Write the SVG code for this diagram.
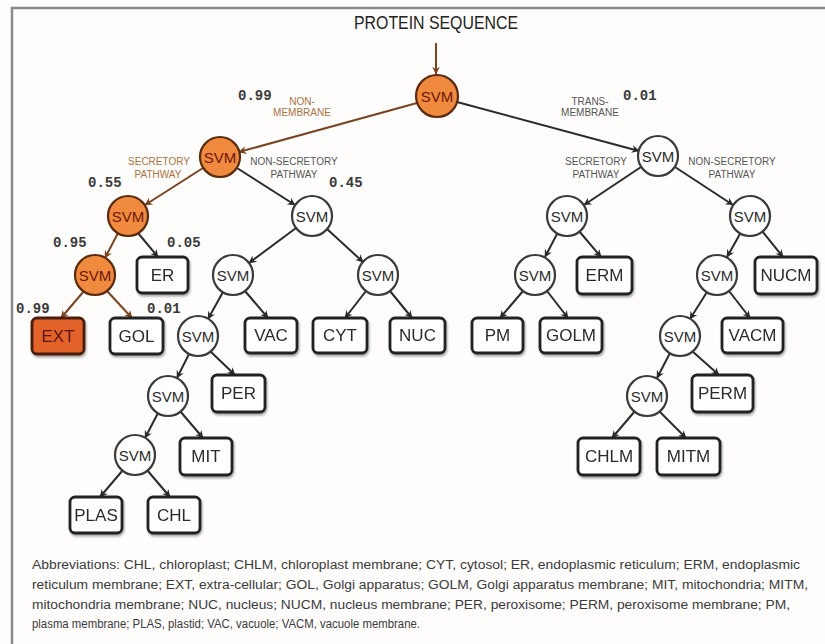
<svg xmlns="http://www.w3.org/2000/svg" width="825" height="644" viewBox="0 0 825 644">
<defs>
<style>
.frame{stroke:#8a8a8a;stroke-width:2.5;fill:none}
.c{fill:#fff;stroke:#3a3a3a;stroke-width:2.2}
.co{fill:#f08a3e;stroke:#5a2a10;stroke-width:2.2}
.b{fill:#fff;stroke:#222;stroke-width:2.8}
.bo{fill:#e2622a;stroke:#4a1e0c;stroke-width:2.8}
.st{font-family:"Liberation Sans",Arial,sans-serif;font-size:15px;fill:#2a2a2a;text-anchor:middle;dominant-baseline:central}
.sto{font-family:"Liberation Sans",Arial,sans-serif;font-size:15px;fill:#6e1608;text-anchor:middle;dominant-baseline:central}
.bt{font-family:"Liberation Sans",Arial,sans-serif;font-size:17px;fill:#2a2a2a;text-anchor:middle;dominant-baseline:central}
.bto{font-family:"Liberation Sans",Arial,sans-serif;font-size:17px;fill:#5a1408;text-anchor:middle;dominant-baseline:central}
.num{font-family:"Liberation Mono","DejaVu Sans Mono",monospace;font-size:14px;font-weight:bold;fill:#3a3a3a}
.lbl{font-family:"Liberation Sans",Arial,sans-serif;font-size:10px;fill:#555;text-anchor:middle}
.lblo{font-family:"Liberation Sans",Arial,sans-serif;font-size:10px;fill:#b0703e;text-anchor:middle}
.e{stroke:#2a2a2a;stroke-width:2;fill:none;marker-end:url(#ah)}
.eo{stroke:#7a4420;stroke-width:2;fill:none;marker-end:url(#aho)}
.abbr{font-family:"Liberation Sans",Arial,sans-serif;font-size:12.5px;fill:#3a3a3a}
</style>
<marker id="ah" viewBox="0 0 10 10" refX="9" refY="5" markerWidth="6" markerHeight="6" orient="auto" markerUnits="userSpaceOnUse" overflow="visible">
<path d="M0,0 L10,5 L0,10 L3,5 Z" fill="#2a2a2a" transform="scale(1.3) translate(-2.3,-1.2)"/>
</marker>
<marker id="aho" viewBox="0 0 10 10" refX="9" refY="5" markerWidth="6" markerHeight="6" orient="auto" markerUnits="userSpaceOnUse" overflow="visible">
<path d="M0,0 L10,5 L0,10 L3,5 Z" fill="#7a4420" transform="scale(1.3) translate(-2.3,-1.2)"/>
</marker>
<filter id="sh" x="-20%" y="-20%" width="140%" height="140%">
<feGaussianBlur in="SourceAlpha" stdDeviation="1.2"/>
<feOffset dx="1" dy="1.5" result="o"/>
<feComponentTransfer><feFuncA type="linear" slope="0.35"/></feComponentTransfer>
<feMerge><feMergeNode/><feMergeNode in="SourceGraphic"/></feMerge>
</filter>
</defs>
<rect width="825" height="644" fill="#fefdfc"/>
<path class="frame" d="M12,644 L12,8 L825,8"/>

<text x="436" y="29" font-family="Liberation Sans,Arial,sans-serif" font-size="18" fill="#222" text-anchor="middle" textLength="164" lengthAdjust="spacingAndGlyphs">PROTEIN SEQUENCE</text>

<g id="connectors">
<path class="eo" d="M436,43 L436,74"/>
<path class="eo" d="M417,103 L239,152"/>
<path class="e" d="M457,102 L639,151"/>
<path class="eo" d="M203,168 L145,205"/>
<path class="e" d="M237,168 L295,205"/>
<path class="eo" d="M118,233 L105,258"/>
<path class="e" d="M138,233 L158,257"/>
<path class="e" d="M296,228 L249,263"/>
<path class="e" d="M327,229 L363,262"/>
<path class="eo" d="M84,291 L61,318"/>
<path class="eo" d="M107,291 L132,318"/>
<path class="e" d="M223,292 L208,319"/>
<path class="e" d="M245,291 L268,318"/>
<path class="e" d="M366,291 L345,318"/>
<path class="e" d="M390,291 L412,318"/>
<path class="e" d="M189,354 L177,378"/>
<path class="e" d="M210,351 L235,375"/>
<path class="e" d="M158,413 L145,438"/>
<path class="e" d="M180,411 L203,438"/>
<path class="e" d="M123,470 L100,497"/>
<path class="e" d="M147,470 L170,497"/>
<path class="e" d="M641,167 L584,205"/>
<path class="e" d="M675,167 L733,205"/>
<path class="e" d="M557,234 L545,257"/>
<path class="e" d="M579,231 L601,257"/>
<path class="e" d="M740,234 L727,257"/>
<path class="e" d="M762,231 L783,257"/>
<path class="e" d="M523,291 L500,318"/>
<path class="e" d="M547,291 L568,318"/>
<path class="e" d="M707,292 L690,319"/>
<path class="e" d="M729,291 L750,318"/>
<path class="e" d="M670,353 L657,378"/>
<path class="e" d="M692,351 L719,375"/>
<path class="e" d="M635,411 L612,438"/>
<path class="e" d="M659,411 L686,438"/>
</g>

<g id="edge-labels">
<text class="num" x="238" y="100">0.99</text>
<text class="lblo" x="302" y="105">NON-</text>
<text class="lblo" x="302" y="116">MEMBRANE</text>
<text class="lbl" x="590" y="105">TRANS-</text>
<text class="lbl" x="590" y="116">MEMBRANE</text>
<text class="num" x="623" y="100">0.01</text>
<text class="lblo" x="159" y="165">SECRETORY</text>
<text class="lblo" x="158" y="178">PATHWAY</text>
<text class="lbl" x="294" y="165">NON-SECRETORY</text>
<text class="lbl" x="294" y="178">PATHWAY</text>
<text class="num" x="88" y="187">0.55</text>
<text class="num" x="329" y="187">0.45</text>
<text class="lbl" x="596" y="165">SECRETORY</text>
<text class="lbl" x="596" y="178">PATHWAY</text>
<text class="lbl" x="732" y="165">NON-SECRETORY</text>
<text class="lbl" x="732" y="178">PATHWAY</text>
<text class="num" x="53" y="247">0.95</text>
<text class="num" x="167" y="247">0.05</text>
<text class="num" x="16" y="313">0.99</text>
<text class="num" x="147" y="313">0.01</text>
</g>

<g id="n-root"><circle class="co" cx="437" cy="96" r="21"/><text class="sto" x="437" y="96">SVM</text></g>
<g id="n-nonmem"><circle class="co" cx="220" cy="157" r="20"/><text class="sto" x="220" y="157">SVM</text></g>
<g id="n-transmem"><circle class="c" cx="658" cy="156" r="20"/><text class="st" x="658" y="156">SVM</text></g>
<g id="n-sec"><circle class="co" cx="128" cy="216" r="20"/><text class="sto" x="128" y="216">SVM</text></g>
<g id="n-nonsec"><circle class="c" cx="312" cy="216" r="20"/><text class="st" x="312" y="216">SVM</text></g>
<g id="n-msec"><circle class="c" cx="567" cy="216" r="20"/><text class="st" x="567" y="216">SVM</text></g>
<g id="n-mnonsec"><circle class="c" cx="750" cy="216" r="20"/><text class="st" x="750" y="216">SVM</text></g>
<g id="n-sec2"><circle class="co" cx="95" cy="275" r="20"/><text class="sto" x="95" y="275">SVM</text></g>
<g id="n-ER" filter="url(#sh)"><rect class="b" x="137" y="257" width="51" height="36" rx="5"/><text class="bt" x="162.5" y="275">ER</text></g>
<g id="n-ns2a"><circle class="c" cx="233" cy="275" r="20"/><text class="st" x="233" y="275">SVM</text></g>
<g id="n-ns2b"><circle class="c" cx="378" cy="275" r="20"/><text class="st" x="378" y="275">SVM</text></g>
<g id="n-msec2"><circle class="c" cx="535" cy="275" r="20"/><text class="st" x="535" y="275">SVM</text></g>
<g id="n-ERM" filter="url(#sh)"><rect class="b" x="577" y="257" width="55" height="37" rx="5"/><text class="bt" x="604.5" y="275.5">ERM</text></g>
<g id="n-mns2"><circle class="c" cx="717" cy="275" r="20"/><text class="st" x="717" y="275">SVM</text></g>
<g id="n-NUCM" filter="url(#sh)"><rect class="b" x="755" y="257" width="62" height="37" rx="5"/><text class="bt" x="786" y="275.5">NUCM</text></g>

<g id="n-EXT" filter="url(#sh)"><rect class="bo" x="32" y="318" width="52" height="36" rx="5"/><text class="bto" x="58" y="336">EXT</text></g>
<g id="n-GOL" filter="url(#sh)"><rect class="b" x="110" y="318" width="53" height="36" rx="5"/><text class="bt" x="136.5" y="336">GOL</text></g>
<g id="n-ns3"><circle class="c" cx="198" cy="336" r="20"/><text class="st" x="198" y="336">SVM</text></g>
<g id="n-VAC" filter="url(#sh)"><rect class="b" x="245" y="318" width="52" height="35" rx="5"/><text class="bt" x="271" y="335.5">VAC</text></g>
<g id="n-CYT" filter="url(#sh)"><rect class="b" x="313" y="318" width="54" height="35" rx="5"/><text class="bt" x="340" y="335.5">CYT</text></g>
<g id="n-NUC" filter="url(#sh)"><rect class="b" x="390" y="318" width="55" height="35" rx="5"/><text class="bt" x="417.5" y="335.5">NUC</text></g>
<g id="n-PM" filter="url(#sh)"><rect class="b" x="472" y="318" width="51" height="35" rx="5"/><text class="bt" x="497.5" y="335.5">PM</text></g>
<g id="n-GOLM" filter="url(#sh)"><rect class="b" x="540" y="318" width="62" height="35" rx="5"/><text class="bt" x="571" y="335.5">GOLM</text></g>
<g id="n-mns3"><circle class="c" cx="680" cy="336" r="20"/><text class="st" x="680" y="336">SVM</text></g>
<g id="n-VACM" filter="url(#sh)"><rect class="b" x="722" y="318" width="61" height="35" rx="5"/><text class="bt" x="752.5" y="335.5">VACM</text></g>

<g id="n-ns4"><circle class="c" cx="168" cy="396" r="20"/><text class="st" x="168" y="396">SVM</text></g>
<g id="n-PER" filter="url(#sh)"><rect class="b" x="212" y="375" width="53" height="37" rx="5"/><text class="bt" x="238.5" y="393.5">PER</text></g>
<g id="n-mns4"><circle class="c" cx="647" cy="396" r="20"/><text class="st" x="647" y="396">SVM</text></g>
<g id="n-PERM" filter="url(#sh)"><rect class="b" x="692" y="375" width="61" height="37" rx="5"/><text class="bt" x="722.5" y="393.5">PERM</text></g>

<g id="n-ns5"><circle class="c" cx="135" cy="455" r="20"/><text class="st" x="135" y="455">SVM</text></g>
<g id="n-MIT" filter="url(#sh)"><rect class="b" x="180" y="438" width="52" height="37" rx="5"/><text class="bt" x="206" y="456.5">MIT</text></g>
<g id="n-CHLM" filter="url(#sh)"><rect class="b" x="578" y="438" width="62" height="37" rx="5"/><text class="bt" x="609" y="456.5">CHLM</text></g>
<g id="n-MITM" filter="url(#sh)"><rect class="b" x="657" y="438" width="63" height="37" rx="5"/><text class="bt" x="688.5" y="456.5">MITM</text></g>

<g id="n-PLAS" filter="url(#sh)"><rect class="b" x="70" y="497" width="52" height="36" rx="5"/><text class="bt" x="96" y="515">PLAS</text></g>
<g id="n-CHL" filter="url(#sh)"><rect class="b" x="148" y="497" width="52" height="36" rx="5"/><text class="bt" x="174" y="515">CHL</text></g>

<g id="abbreviations">
<text class="abbr" x="32" y="569" textLength="768" lengthAdjust="spacingAndGlyphs">Abbreviations: CHL, chloroplast; CHLM, chloroplast membrane; CYT, cytosol; ER, endoplasmic reticulum; ERM, endoplasmic</text>
<text class="abbr" x="32" y="589" textLength="776" lengthAdjust="spacingAndGlyphs">reticulum membrane; EXT, extra-cellular; GOL, Golgi apparatus; GOLM, Golgi apparatus membrane; MIT, mitochondria; MITM,</text>
<text class="abbr" x="32" y="609" textLength="758" lengthAdjust="spacingAndGlyphs">mitochondria membrane; NUC, nucleus; NUCM, nucleus membrane; PER, peroxisome; PERM, peroxisome membrane; PM,</text>
<text class="abbr" x="32" y="628" textLength="388" lengthAdjust="spacingAndGlyphs">plasma membrane; PLAS, plastid; VAC, vacuole; VACM, vacuole membrane.</text>
</g>
</svg>
